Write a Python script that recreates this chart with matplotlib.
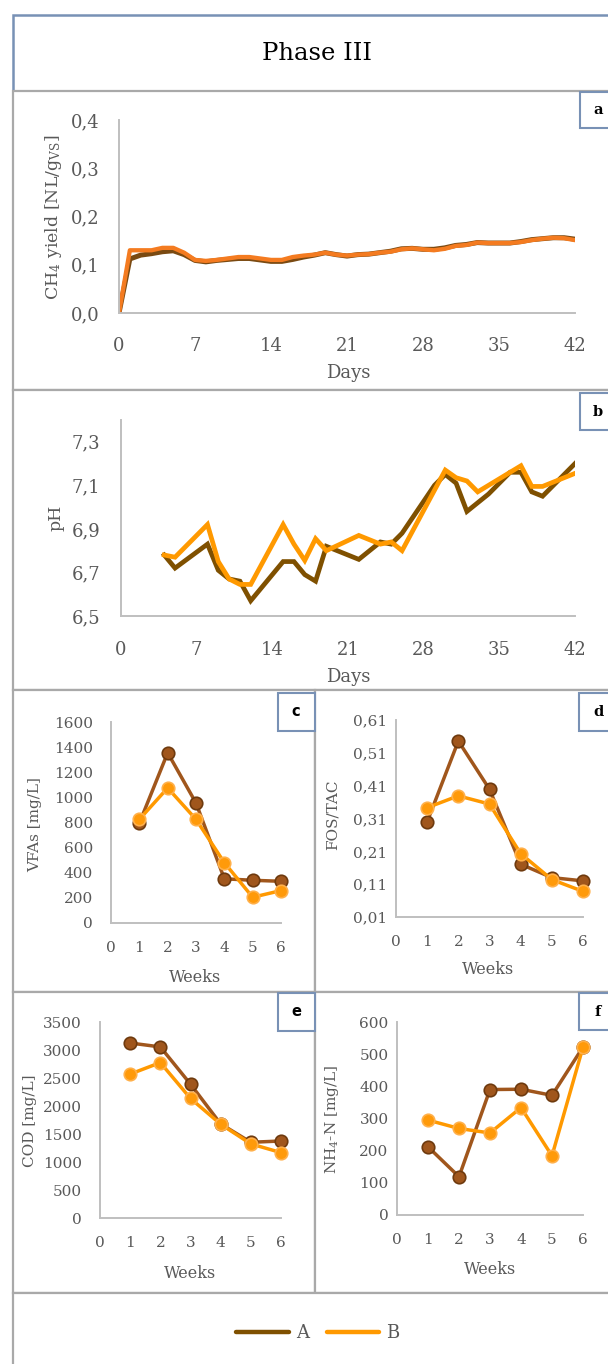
import matplotlib
matplotlib.use("Agg")
import matplotlib.pyplot as plt
from matplotlib.patches import Rectangle
from matplotlib.lines import Line2D
from matplotlib.ticker import FixedLocator, FuncFormatter

plt.rcParams['font.family'] = ['DejaVu Serif']
plt.rcParams['mathtext.fontset'] = 'dejavuserif'

# ---------------- data ----------------
days_a = list(range(0, 43))
ch4_A = [0, 0.112, 0.120, 0.123, 0.127, 0.129, 0.121, 0.109, 0.106, 0.109, 0.111, 0.113, 0.113,
         0.110, 0.107, 0.107, 0.111, 0.116, 0.120, 0.125, 0.121, 0.118, 0.121, 0.122, 0.125, 0.128,
         0.133, 0.134, 0.132, 0.132, 0.135, 0.140, 0.142, 0.146, 0.145, 0.145, 0.145, 0.148, 0.152,
         0.154, 0.156, 0.156, 0.153]
ch4_B = [0, 0.130, 0.130, 0.130, 0.135, 0.135, 0.125, 0.110, 0.108, 0.110, 0.113, 0.116, 0.116,
         0.113, 0.110, 0.110, 0.116, 0.119, 0.121, 0.125, 0.121, 0.119, 0.121, 0.122, 0.125, 0.127,
         0.132, 0.134, 0.132, 0.130, 0.133, 0.139, 0.141, 0.146, 0.145, 0.145, 0.145, 0.147, 0.151,
         0.154, 0.156, 0.155, 0.151]

days_pH_A = [4, 5, 8, 9, 10, 11, 12, 15, 16, 17, 18, 19, 22, 24, 25, 26, 29, 30, 31, 32, 34, 36, 37, 38, 39, 42]
pH_A = [6.78, 6.72, 6.83, 6.71, 6.67, 6.66, 6.57, 6.75, 6.75, 6.69, 6.66, 6.82, 6.76, 6.84, 6.83,
        6.88, 7.10, 7.15, 7.11, 6.98, 7.06, 7.16, 7.16, 7.07, 7.05, 7.20]
days_pH_B = [4, 5, 8, 9, 10, 11, 12, 15, 16, 17, 18, 19, 22, 24, 25, 26, 30, 31, 32, 33, 35, 37, 38, 39, 42]
pH_B = [6.78, 6.77, 6.92, 6.75, 6.67, 6.645, 6.645, 6.92, 6.83, 6.755, 6.855, 6.80, 6.87, 6.83,
        6.84, 6.80, 7.17, 7.135, 7.12, 7.07, 7.13, 7.19, 7.095, 7.095, 7.155]

weeks = [1, 2, 3, 4, 5, 6]
vfa_A = [795, 1355, 955, 352, 340, 332]
vfa_B = [825, 1075, 825, 480, 205, 258]
fos_A = [0.300, 0.546, 0.399, 0.171, 0.130, 0.120]
fos_B = [0.343, 0.379, 0.354, 0.203, 0.124, 0.088]
cod_A = [3125, 3055, 2390, 1680, 1352, 1375]
cod_B = [2570, 2775, 2135, 1675, 1323, 1168]
nh4_A = [212, 119, 390, 391, 372, 522]
nh4_B = [295, 269, 255, 334, 184, 522]

series_names = ['A', 'B']

# ---------------- styling ----------------
W, H = 608, 1364
fig = plt.figure(figsize=(W / 100, H / 100), dpi=100)

TICK_C = '#595959'
SPINE_C = '#bfbfbf'
BOX_C = '#a9a9a9'
BLUE_C = '#7891b5'
A_DARK = '#7f5000'
B_ORANGE = '#ff9900'
A_A = '#7a4a12'
B_A = '#f47b20'
A_MK = '#a0561c'
A_MK_E = '#6e3a0e'
B_MK = '#ff9a0a'
B_MK_E = '#ffb04a'


def fx(x):
    return x / W


def fy(y):
    return 1 - y / H


def box(x0, y0, x1, y1, color, lw=1.6, z=0):
    r = Rectangle((fx(x0), fy(y1)), fx(x1) - fx(x0), fy(y0) - fy(y1),
                  transform=fig.transFigure, fill=True, facecolor='white',
                  edgecolor=color, linewidth=lw, zorder=z)
    fig.add_artist(r)


def make_ax(x0, y0, x1, y1):
    ax = fig.add_axes([fx(x0), fy(y1), fx(x1) - fx(x0), fy(y0) - fy(y1)])
    ax.set_facecolor('none')
    for s in ['top', 'right']:
        ax.spines[s].set_visible(False)
    for s in ['left', 'bottom']:
        ax.spines[s].set_color(SPINE_C)
        ax.spines[s].set_linewidth(1.4)
    ax.tick_params(length=0, colors=TICK_C)
    return ax


# outer boxes
box(13, 15, 650, 91, BLUE_C, lw=1.8)
box(13, 91, 650, 390, BOX_C)
box(13, 390, 650, 690, BOX_C)
box(13, 690, 315, 992, BOX_C)
box(315, 690, 650, 992, BOX_C)
box(13, 992, 315, 1293, BOX_C)
box(315, 992, 650, 1293, BOX_C)
box(13, 1293, 650, 1400, BOX_C)

fig.text(fx(317), fy(53), 'Phase III', fontsize=17.5, ha='center', va='center', color='black')

# label boxes
label_boxes = [('a', 580, 92, 650, 128, 598, 'DejaVu Serif'),
               ('b', 580, 393, 650, 430, 598, 'DejaVu Serif'),
               ('c', 278, 693, 315, 731, 296, 'DejaVu Sans'),
               ('d', 579, 693, 650, 731, 598, 'DejaVu Serif'),
               ('e', 278, 993, 315, 1031, 296, 'DejaVu Sans'),
               ('f', 579, 993, 650, 1030, 598, 'DejaVu Serif')]
for lab, x0, y0, x1, y1, tx, fam in label_boxes:
    box(x0, y0, x1, y1, BLUE_C, lw=1.5, z=5)
    fig.text(fx(tx), fy((y0 + y1) / 2), lab, fontsize=10.5, fontweight='bold',
             family=fam, ha='center', va='center', color='black', zorder=6)


def comma(fmt):
    return FuncFormatter(lambda v, p: format(v, fmt).replace('.', ','))


# ---------------- panel a ----------------
ax = make_ax(119, 120, 575, 313)
ax.plot(days_a, ch4_A, color=A_A, lw=3.6, solid_capstyle='round', solid_joinstyle='round')
ax.plot(days_a, ch4_B, color=B_A, lw=3.1, solid_capstyle='round', solid_joinstyle='round')
ax.set_xlim(0, 42)
ax.set_ylim(0, 0.4)
ax.xaxis.set_major_locator(FixedLocator([0, 7, 14, 21, 28, 35, 42]))
ax.yaxis.set_major_locator(FixedLocator([0, 0.1, 0.2, 0.3, 0.4]))
ax.yaxis.set_major_formatter(comma('.1f'))
ax.tick_params(axis='both', labelsize=13)
ax.tick_params(axis='y', pad=14)
ax.tick_params(axis='x', pad=17)
fig.text(fx(54), fy(217), r'CH$_4$ yield [NL/g$_{\mathrm{VS}}$]', rotation=90, fontsize=12.5,
         color=TICK_C, ha='center', va='center')
fig.text(fx(348), fy(373), 'Days', fontsize=13, color=TICK_C, ha='center', va='center')

# ---------------- panel b ----------------
ax = make_ax(121, 420, 575, 616)
ax.plot(days_pH_A, pH_A, color=A_DARK, lw=3.4, solid_joinstyle='miter')
ax.plot(days_pH_B, pH_B, color=B_ORANGE, lw=3.4, solid_joinstyle='miter')
ax.set_xlim(0, 42)
ax.set_ylim(6.5, 7.4)
ax.xaxis.set_major_locator(FixedLocator([0, 7, 14, 21, 28, 35, 42]))
ax.yaxis.set_major_locator(FixedLocator([6.5, 6.7, 6.9, 7.1, 7.3]))
ax.yaxis.set_major_formatter(comma('.1f'))
ax.tick_params(axis='both', labelsize=13)
ax.tick_params(axis='y', pad=15)
ax.tick_params(axis='x', pad=18)
fig.text(fx(56), fy(518), 'pH', rotation=90, fontsize=12.5, color=TICK_C, ha='center', va='center')
fig.text(fx(348), fy(677), 'Days', fontsize=13, color=TICK_C, ha='center', va='center')


def weekly(x0, y0, x1, y1, ya, yb, ylim, yticks, fmt, ypad, ylabel, ylx, yly, wx, wy):
    ax = make_ax(x0, y0, x1, y1)
    ax.plot(weeks, ya, color=A_MK, lw=2.5, marker='o', ms=9, mfc=A_MK, mec=A_MK_E, mew=1.2,
            clip_on=False, zorder=3)
    ax.plot(weeks, yb, color=B_ORANGE, lw=2.5, marker='o', ms=9, mfc=B_MK, mec=B_MK_E, mew=1.2,
            clip_on=False, zorder=4)
    ax.set_xlim(0, 6)
    ax.set_ylim(*ylim)
    ax.xaxis.set_major_locator(FixedLocator([0, 1, 2, 3, 4, 5, 6]))
    ax.yaxis.set_major_locator(FixedLocator(yticks))
    ax.yaxis.set_major_formatter(comma(fmt))
    ax.tick_params(axis='both', labelsize=11)
    ax.tick_params(axis='y', pad=ypad)
    ax.tick_params(axis='x', pad=13)
    fig.text(fx(ylx), fy(yly), ylabel, rotation=90, fontsize=11, color=TICK_C,
             ha='center', va='center')
    fig.text(fx(wx), fy(wy), 'Weeks', fontsize=11.5, color=TICK_C, ha='center', va='center')
    return ax


weekly(111, 722, 281, 923, vfa_A, vfa_B, (0, 1600), list(range(0, 1601, 200)), '.0f', 13,
       'VFAs [mg/L]', 35, 825, 195, 977)
weekly(396, 720, 583, 917, fos_A, fos_B, (0.01, 0.61), [0.01, 0.11, 0.21, 0.31, 0.41, 0.51, 0.61],
       '.2f', 6.5, 'FOS/TAC', 333, 815, 488, 970)
weekly(100, 1022, 281, 1218, cod_A, cod_B, (0, 3500), list(range(0, 3501, 500)), '.0f', 13,
       'COD [mg/L]', 30, 1121, 190, 1273)
weekly(397, 1022, 583, 1215, nh4_A, nh4_B, (0, 600), list(range(0, 601, 100)), '.0f', 6,
       r'NH$_4$-N [mg/L]', 332, 1119, 490, 1270)

# ---------------- legend ----------------
handles = [Line2D([], [], color=A_DARK, lw=3.2, solid_capstyle='round'),
           Line2D([], [], color=B_ORANGE, lw=3.2, solid_capstyle='round')]
fig.legend(handles, series_names, loc='center', bbox_to_anchor=(fx(318), fy(1333)), ncol=2,
           frameon=False, fontsize=13, handlelength=2.9, handletextpad=0.4, columnspacing=1.0,
           labelcolor=TICK_C)

fig.savefig('out.png', dpi=100)
